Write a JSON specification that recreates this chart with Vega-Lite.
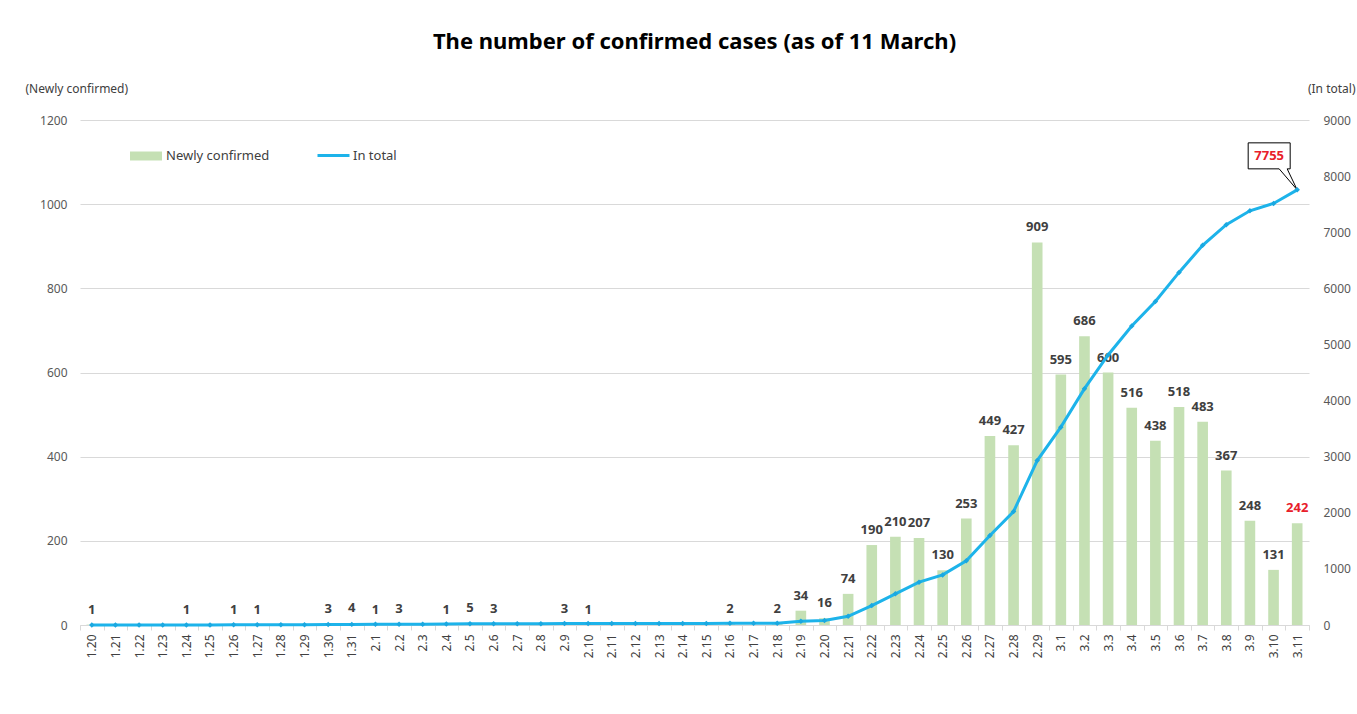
{
  "$schema": "https://vega.github.io/schema/vega-lite/v6.json",
  "autosize": "none",
  "width": 1229,
  "height": 505,
  "padding": {"left": 80, "top": 120, "right": 48, "bottom": 89},
  "background": "white",
  "config": {
    "font": "Noto Sans",
    "view": {"stroke": null},
    "axis": {"labelColor": "#595959", "labelFontSize": 12, "titleColor": "#404040", "titleFontSize": 12, "titleFontWeight": "normal"}
  },
  "title": {
    "text": "The number of confirmed cases (as of 11 March)",
    "fontSize": 22,
    "fontWeight": "bold",
    "color": "#000000",
    "anchor": "middle",
    "offset": 28
  },
  "data": {
    "values": [
      {"d": "1.20", "new": 1, "total": 1},
      {"d": "1.21", "new": 0, "total": 1},
      {"d": "1.22", "new": 0, "total": 1},
      {"d": "1.23", "new": 0, "total": 1},
      {"d": "1.24", "new": 1, "total": 2},
      {"d": "1.25", "new": 0, "total": 2},
      {"d": "1.26", "new": 1, "total": 3},
      {"d": "1.27", "new": 1, "total": 4},
      {"d": "1.28", "new": 0, "total": 4},
      {"d": "1.29", "new": 0, "total": 4},
      {"d": "1.30", "new": 3, "total": 7},
      {"d": "1.31", "new": 4, "total": 11},
      {"d": "2.1", "new": 1, "total": 12},
      {"d": "2.2", "new": 3, "total": 15},
      {"d": "2.3", "new": 0, "total": 15},
      {"d": "2.4", "new": 1, "total": 16},
      {"d": "2.5", "new": 5, "total": 21},
      {"d": "2.6", "new": 3, "total": 24},
      {"d": "2.7", "new": 0, "total": 24},
      {"d": "2.8", "new": 0, "total": 24},
      {"d": "2.9", "new": 3, "total": 27},
      {"d": "2.10", "new": 1, "total": 28},
      {"d": "2.11", "new": 0, "total": 28},
      {"d": "2.12", "new": 0, "total": 28},
      {"d": "2.13", "new": 0, "total": 28},
      {"d": "2.14", "new": 0, "total": 28},
      {"d": "2.15", "new": 0, "total": 28},
      {"d": "2.16", "new": 2, "total": 30},
      {"d": "2.17", "new": 0, "total": 30},
      {"d": "2.18", "new": 2, "total": 32},
      {"d": "2.19", "new": 34, "total": 66},
      {"d": "2.20", "new": 16, "total": 82},
      {"d": "2.21", "new": 74, "total": 156},
      {"d": "2.22", "new": 190, "total": 346},
      {"d": "2.23", "new": 210, "total": 556},
      {"d": "2.24", "new": 207, "total": 763},
      {"d": "2.25", "new": 130, "total": 893},
      {"d": "2.26", "new": 253, "total": 1146},
      {"d": "2.27", "new": 449, "total": 1595},
      {"d": "2.28", "new": 427, "total": 2022},
      {"d": "2.29", "new": 909, "total": 2931},
      {"d": "3.1", "new": 595, "total": 3526},
      {"d": "3.2", "new": 686, "total": 4212},
      {"d": "3.3", "new": 600, "total": 4812},
      {"d": "3.4", "new": 516, "total": 5328},
      {"d": "3.5", "new": 438, "total": 5766},
      {"d": "3.6", "new": 518, "total": 6284},
      {"d": "3.7", "new": 483, "total": 6767},
      {"d": "3.8", "new": 367, "total": 7134},
      {"d": "3.9", "new": 248, "total": 7382},
      {"d": "3.10", "new": 131, "total": 7513},
      {"d": "3.11", "new": 242, "total": 7755}
    ]
  },
  "encoding": {
    "x": {
      "field": "d",
      "type": "nominal",
      "sort": null,
      "scale": {"type": "band", "paddingInner": 0, "paddingOuter": 0},
      "axis": {
        "title": null,
        "labelAngle": 270,
        "labelPadding": 4,
        "labelColor": "#404040",
        "domainColor": "#d9d9d9",
        "tickColor": "#d9d9d9",
        "tickBand": "extent",
        "tickSize": 5
      }
    }
  },
  "layer": [
    {
      "encoding": {
        "y": {
          "field": "new",
          "type": "quantitative",
          "scale": {"domain": [0, 1200], "nice": false},
          "axis": {
            "title": "(Newly confirmed)",
            "titleAngle": 0,
            "titleX": -55,
            "titleY": -32,
            "titleAlign": "left",
            "titleBaseline": "middle",
            "values": [0, 200, 400, 600, 800, 1000, 1200],
            "format": "d",
            "domain": false,
            "ticks": false,
            "labelPadding": 13,
            "grid": true,
            "gridColor": "#d9d9d9"
          }
        }
      },
      "layer": [
        {
          "mark": {"type": "bar", "width": {"band": 0.45}},
          "encoding": {
            "fill": {
              "datum": "Newly confirmed",
              "type": "nominal",
              "scale": {"domain": ["Newly confirmed"], "range": ["#c5e0b4"]},
              "legend": {
                "title": null,
                "orient": "none",
                "legendX": 56,
                "legendY": 26,
                "symbolType": "M -1.6 -0.45 H 1.6 V 0.45 H -1.6 Z",
                "symbolSize": 400,
                "symbolStrokeWidth": 0,
                "labelOffset": 10,
                "labelFontSize": 13,
                "labelColor": "#404040"
              }
            }
          }
        },
        {
          "transform": [{"filter": "datum.new > 0"}],
          "mark": {"type": "text", "baseline": "alphabetic", "dy": -11, "fontSize": 13, "fontWeight": "bold"},
          "encoding": {
            "text": {"field": "new", "type": "quantitative", "format": "d"},
            "color": {
              "condition": {"test": "datum.d === '3.11'", "value": "#e8202a"},
              "value": "#404040"
            }
          }
        }
      ]
    },
    {
      "encoding": {
        "y": {
          "field": "total",
          "type": "quantitative",
          "scale": {"domain": [0, 9000], "nice": false},
          "axis": {
            "orient": "right",
            "title": "(In total)",
            "titleAngle": 0,
            "titleX": 46,
            "titleY": -32,
            "titleAlign": "right",
            "titleBaseline": "middle",
            "values": [0, 1000, 2000, 3000, 4000, 5000, 6000, 7000, 8000, 9000],
            "format": "d",
            "domain": false,
            "ticks": false,
            "labelPadding": 14,
            "grid": false
          }
        }
      },
      "layer": [
        {
          "mark": {"type": "line", "strokeWidth": 3},
          "encoding": {
            "stroke": {
              "datum": "In total",
              "type": "nominal",
              "scale": {"domain": ["In total"], "range": ["#1db3ea"]},
              "legend": {
                "title": null,
                "orient": "none",
                "legendX": 236,
                "legendY": 18,
                "symbolType": "stroke",
                "symbolSize": 1024,
                "symbolStrokeWidth": 3,
                "labelOffset": 2,
                "labelFontSize": 13,
                "labelColor": "#404040"
              }
            }
          }
        },
        {
          "transform": [{"filter": "datum.d === '3.11'"}],
          "mark": {
            "type": "point",
            "shape": "M -4.9 -4.7 L -0.7 -4.7 L -0.7 -2.1 L -1.0 -2.1 L 0 0 L -1.8 -2.1 L -4.9 -2.1 Z",
            "size": 400,
            "filled": true,
            "fill": "white",
            "stroke": "#000000",
            "strokeWidth": 1,
            "opacity": 1
          }
        },
        {
          "mark": {"type": "point", "shape": "diamond", "filled": true, "size": 30, "color": "#1aa8e0", "opacity": 1}
        },
        {
          "transform": [{"filter": "datum.d === '3.11'"}],
          "mark": {"type": "text", "dx": -28, "dy": -34, "baseline": "middle", "align": "center", "fontSize": 13, "fontWeight": "bold", "color": "#e8202a"},
          "encoding": {"text": {"field": "total", "type": "quantitative", "format": "d"}}
        }
      ]
    }
  ],
  "resolve": {"scale": {"y": "independent"}}
}
